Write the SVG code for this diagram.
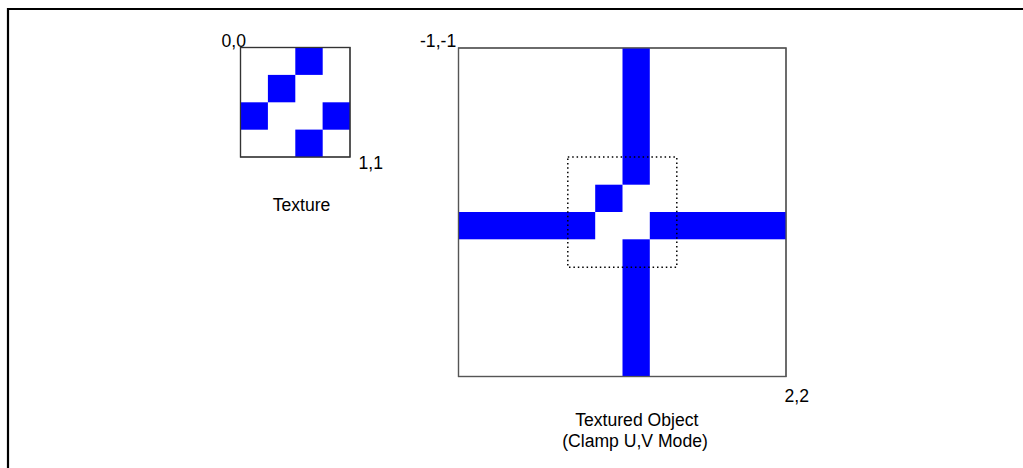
<svg xmlns="http://www.w3.org/2000/svg" width="1023" height="468" viewBox="0 0 1023 468">
<style>
.lbl{font-family:"Liberation Sans",Arial,sans-serif;font-size:17.6px;fill:#000}
.box{fill:#fff;stroke:#444;stroke-width:1.2}
.blue{fill:#0000ff}
</style>
<rect width="1023" height="468" fill="#fff"/>
<path d="M8,468 V9 H1023" fill="none" stroke="#000" stroke-width="2.2"/>
<g id="texture">
<rect class="box" x="240.5" y="47.5" width="109.5" height="109.5"/>
<rect class="blue" x="295.3" y="47.5" width="27.4" height="27.4"/>
<rect class="blue" x="267.9" y="74.9" width="27.4" height="27.4"/>
<rect class="blue" x="240.5" y="102.3" width="27.4" height="27.4"/>
<rect class="blue" x="322.6" y="102.3" width="27.4" height="27.4"/>
<rect class="blue" x="295.3" y="129.6" width="27.4" height="27.4"/>
<rect x="240.5" y="47.5" width="109.5" height="109.5" fill="none" stroke="#333" stroke-width="1.2"/>
<text class="lbl" x="221.5" y="46.5">0,0</text>
<text class="lbl" x="358.5" y="169">1,1</text>
<text class="lbl" x="301.5" y="211" text-anchor="middle">Texture</text>
</g>
<g id="textured-object">
<rect class="box" x="458.5" y="48" width="327.5" height="328.5"/>
<rect class="blue" x="622.5" y="48" width="27.3" height="136.7"/>
<rect class="blue" x="595.2" y="184.7" width="27.3" height="27.3"/>
<rect class="blue" x="458.5" y="212" width="136.7" height="27.3"/>
<rect class="blue" x="649.8" y="212" width="136.2" height="27.3"/>
<rect class="blue" x="622.5" y="239.3" width="27.3" height="137.2"/>
<rect x="458.5" y="48" width="327.5" height="328.5" fill="none" stroke="#555" stroke-width="1.2"/>
<rect x="567.8" y="157" width="109" height="110.3" fill="none" stroke="#000" stroke-width="1.5" stroke-dasharray="1.5 2.9"/>
<text class="lbl" x="420" y="47">-1,-1</text>
<text class="lbl" x="784.5" y="402">2,2</text>
<text class="lbl" x="636.8" y="426" text-anchor="middle">Textured Object</text>
<text class="lbl" x="635" y="447" text-anchor="middle">(Clamp U,V Mode)</text>
</g>
</svg>
